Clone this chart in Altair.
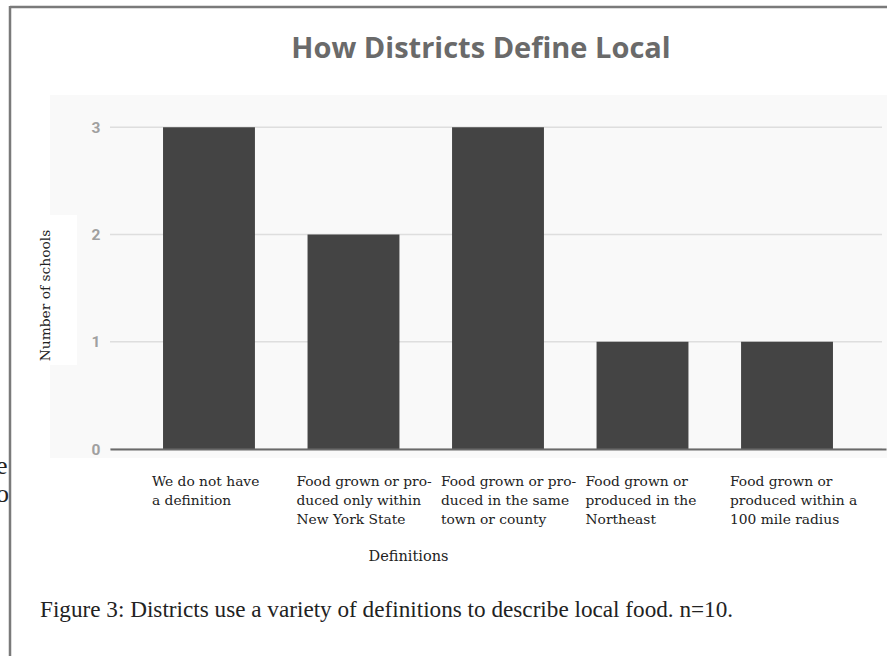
import altair as alt
import pandas as pd

categories = [
    "We do not have|a definition",
    "Food grown or pro-|duced only within|New York State",
    "Food grown or pro-|duced in the same|town or county",
    "Food grown or|produced in the|Northeast",
    "Food grown or|produced within a|100 mile radius",
]
counts = [3, 2, 3, 1, 1]
y_ticks = [0, 1, 2, 3]

title_text = "How Districts Define Local"
caption_text = "Figure 3: Districts use a variety of definitions to describe local food. n=10."

df = pd.DataFrame({"definition": categories, "schools": counts})
grid_df = pd.DataFrame({"schools": y_ticks})
one = alt.Data(values=[{"k": 1}])

W, H = 776, 354
LEFT, TOP = 110, 95

SERIF = "DejaVu Serif"
y_scale = alt.Scale(domain=[0, 3.3], nice=False, zero=True)

y_axis = alt.Axis(
    values=y_ticks,
    format="d",
    title="Number of schools",
    titleX=-65,
    titleY=200,
    titleAlign="center",
    titleBaseline="middle",
    titleAngle=270,
    titleFont=SERIF,
    titleFontSize=13.8,
    titleFontWeight="normal",
    titleColor="#222222",
    labelFont="Roboto",
    labelFontSize=15.5,
    labelFontWeight="bold",
    labelColor="#a0a0a0",
    labelPadding=10,
    ticks=False,
    domain=False,
    grid=False,
    zindex=1,
)

bg = alt.Chart(one).mark_rect(color="#f9f9f9").encode(
    x=alt.value(-60), x2=alt.value(777), y=alt.value(0), y2=alt.value(363)
)
white_box = alt.Chart(one).mark_rect(color="#ffffff").encode(
    x=alt.value(-72), x2=alt.value(-33), y=alt.value(120), y2=alt.value(270)
)

gridlines = alt.Chart(grid_df).mark_rule(color="#dedede", strokeWidth=1.5).encode(
    y=alt.Y("schools:Q", scale=y_scale, axis=y_axis),
    x=alt.value(0),
    x2=alt.value(772),
)

bars = alt.Chart(df).mark_bar(color="#444444").encode(
    x=alt.X(
        "definition:N",
        sort=categories,
        scale=alt.Scale(paddingInner=0.364, paddingOuter=0.367),
        axis=alt.Axis(
            title="Definitions",
            titleX=298,
            titleY=107,
            titleAlign="center",
            titleBaseline="middle",
            titleFont=SERIF,
            titleFontSize=14.5,
            titleFontWeight="normal",
            titleColor="#222222",
            labelExpr="split(datum.label, '|')",
            labelAngle=0,
            labelAlign="left",
            labelBaseline="top",
            labelOffset=-57,
            labelPadding=25,
            labelFont=SERIF,
            labelFontSize=13.8,
            labelColor="#222222",
            labelLineHeight=19,
            labelLimit=0,
            labelOverlap=False,
            labelBound=False,
            ticks=False,
            grid=False,
            domainColor="#6a6a6a",
            domainWidth=2,
            zindex=1,
        ),
    ),
    y=alt.Y("schools:Q", scale=y_scale, axis=y_axis),
)

title = alt.Chart(one).mark_text(
    text=title_text, font="Open Sans", fontSize=29, fontWeight="bold",
    color="#6a6a6a", align="center", baseline="alphabetic"
).encode(x=alt.value(371), y=alt.value(-37))

caption = alt.Chart(one).mark_text(
    text=caption_text, font="Liberation Serif", fontSize=23.2,
    color="#222222", align="left", baseline="alphabetic"
).encode(x=alt.value(-70), y=alt.value(522))

frag_e = alt.Chart(one).mark_text(
    text="e", font="Liberation Serif", fontSize=26, color="#222222",
    align="left", baseline="middle"
).encode(x=alt.value(-114), y=alt.value(371))
frag_o = alt.Chart(one).mark_text(
    text="o", font="Liberation Serif", fontSize=26, color="#222222",
    align="left", baseline="middle"
).encode(x=alt.value(-114), y=alt.value(399))

border_top = alt.Chart(one).mark_rule(color="#7a7a7a", strokeWidth=2.5).encode(
    x=alt.value(-100), x2=alt.value(800), y=alt.value(-88)
)
border_left = alt.Chart(one).mark_rule(color="#7a7a7a", strokeWidth=2.5).encode(
    x=alt.value(-100), y=alt.value(-89), y2=alt.value(580)
)

chart = alt.layer(
    bg, white_box, gridlines, bars, title, caption, frag_e, frag_o, border_top, border_left
).properties(
    width=W, height=H,
    autosize=alt.AutoSizeParams(type="none"),
    padding={"left": LEFT, "top": TOP, "right": 887 - LEFT - W, "bottom": 656 - TOP - H},
    background="#ffffff",
).configure_view(stroke=None)

chart.save("out.html", embed_options={"renderer": "svg", "actions": False})
